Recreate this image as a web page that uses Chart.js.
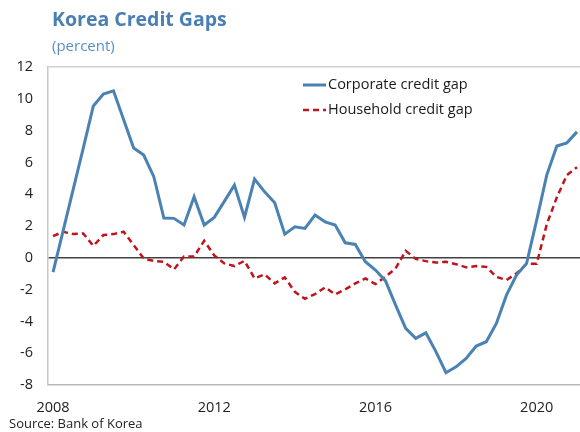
<!DOCTYPE html>
<html>
<head>
<meta charset="utf-8">
<script src="https://cdn.jsdelivr.net/npm/chart.js@4/dist/chart.umd.min.js"></script>
<style>
  html, body { margin: 0; padding: 0; background: #fff; }
  #wrap { position: relative; width: 580px; height: 432px; overflow: hidden; font-family: "Open Sans", "Noto Sans", sans-serif; }
  canvas { position: absolute; left: 0; top: 0; }
  .title { position: absolute; left: 52px; top: 5px; font-size: 19.5px; font-weight: bold; color: #4a7fb3; white-space: nowrap; }
  .sub { position: absolute; left: 52px; top: 35px; font-size: 15px; color: #5b8fc4; white-space: nowrap; }
  .src { position: absolute; left: 9px; top: 414px; font-size: 13px; color: #222; white-space: nowrap; }
</style>
</head>
<body>
<div id="wrap">
  <canvas id="c" width="580" height="432"></canvas>
  <div class="title">Korea Credit Gaps</div>
  <div class="sub">(percent)</div>
  <div class="src">Source: Bank of Korea</div>
</div>
<script>
// Quarterly categories 2008Q1 .. 2021Q1
const quarters = [
  "2008Q1","2008Q2","2008Q3","2008Q4","2009Q1","2009Q2","2009Q3","2009Q4",
  "2010Q1","2010Q2","2010Q3","2010Q4","2011Q1","2011Q2","2011Q3","2011Q4",
  "2012Q1","2012Q2","2012Q3","2012Q4","2013Q1","2013Q2","2013Q3","2013Q4",
  "2014Q1","2014Q2","2014Q3","2014Q4","2015Q1","2015Q2","2015Q3","2015Q4",
  "2016Q1","2016Q2","2016Q3","2016Q4","2017Q1","2017Q2","2017Q3","2017Q4",
  "2018Q1","2018Q2","2018Q3","2018Q4","2019Q1","2019Q2","2019Q3","2019Q4",
  "2020Q1","2020Q2","2020Q3","2020Q4","2021Q1"
];
const corporateGap = [
  -0.9, 1.7, 4.3, 6.9, 9.55, 10.3, 10.5, 8.7,
  6.9, 6.46, 5.1, 2.5, 2.48, 2.06, 3.84, 2.06,
  2.54, 3.55, 4.57, 2.54, 4.95, 4.15, 3.46, 1.49,
  1.95, 1.85, 2.69, 2.26, 2.06, 0.94, 0.84, -0.25,
  -0.77, -1.45, -2.98, -4.44, -5.07, -4.72, -5.9, -7.23,
  -6.86, -6.33, -5.55, -5.28, -4.13, -2.35, -1.09, -0.35,
  2.37, 5.2, 7.03, 7.23, 7.92
];
const householdGap = [
  1.36, 1.64, 1.49, 1.53, 0.75, 1.43, 1.49, 1.64,
  0.8, -0.05, -0.2, -0.25, -0.73, 0.08, 0.08, 1.07,
  0.15, -0.35, -0.52, -0.19, -1.3, -1.04, -1.61, -1.23,
  -2.14, -2.58, -2.28, -1.86, -2.3, -1.99, -1.61, -1.3,
  -1.65, -1.19, -0.67, 0.44, -0.07, -0.21, -0.3, -0.25,
  -0.4, -0.6, -0.52, -0.57, -1.2, -1.4, -0.98, -0.38,
  -0.38, 2.1, 3.8, 5.2, 5.7
];
const xTickQuarters = ["2008Q1","2012Q1","2016Q1","2020Q1"];
const xTickLabels = ["2008","2012","2016","2020"];
const seriesNames = ["Corporate credit gap","Household credit gap"];

const toPoints = arr => arr.map((v, i) => ({ x: i, y: v }));
const tickIdx = xTickQuarters.map(q => quarters.indexOf(q));

const FONT = '"Open Sans", "Noto Sans", sans-serif';

const legendPlugin = {
  id: 'insideLegend',
  afterDraw(chart) {
    const ctx = chart.ctx;
    const rows = [85, 110];
    chart.data.datasets.forEach((ds, k) => {
      const y = rows[k];
      ctx.save();
      ctx.strokeStyle = ds.borderColor;
      ctx.lineWidth = ds.borderWidth;
      ctx.setLineDash(ds.borderDash || []);
      ctx.beginPath();
      ctx.moveTo(303, y);
      ctx.lineTo(326, y);
      ctx.stroke();
      ctx.setLineDash([]);
      ctx.fillStyle = '#1a1a1a';
      ctx.font = '14.5px ' + FONT;
      ctx.textBaseline = 'middle';
      ctx.textAlign = 'left';
      ctx.fillText(ds.label, 328, y);
      ctx.restore();
    });
  }
};

new Chart(document.getElementById('c'), {
  type: 'line',
  data: {
    datasets: [
      {
        label: seriesNames[0],
        data: toPoints(corporateGap),
        borderColor: '#4a82b4',
        borderWidth: 3,
        pointRadius: 0,
        tension: 0,
        fill: false
      },
      {
        label: seriesNames[1],
        data: toPoints(householdGap),
        borderColor: '#c0141c',
        borderWidth: 2.5,
        borderDash: [6, 4],
        pointRadius: 0,
        tension: 0,
        fill: false
      }
    ]
  },
  options: {
    responsive: false,
    animation: false,
    layout: { padding: { top: 67, right: 0, bottom: 0, left: 0 } },
    plugins: {
      legend: { display: false },
      tooltip: { enabled: false },
      title: { display: false }
    },
    scales: {
      x: {
        type: 'linear',
        min: -0.5,
        max: 52.3,
        afterBuildTicks(scale) {
          scale.ticks = tickIdx.map(v => ({ value: v }));
        },
        afterFit(scale) { scale.height = 47; },
        ticks: {
          autoSkip: false,
          maxRotation: 0,
          padding: 14,
          color: '#222',
          font: { family: FONT, size: 14.5 },
          callback(value) {
            const k = tickIdx.indexOf(value);
            return k >= 0 ? xTickLabels[k] : '';
          }
        },
        grid: { display: false, drawTicks: false },
        border: { display: true, color: '#b8b8b8', width: 1.5 }
      },
      y: {
        min: -8,
        max: 12,
        afterFit(scale) { scale.width = 48; },
        ticks: {
          stepSize: 2,
          padding: 15,
          color: '#222',
          font: { family: FONT, size: 14.5 }
        },
        grid: {
          drawTicks: false,
          color(ctx) {
            if (ctx.tick && ctx.tick.value === 0) return '#404040';
            if (ctx.tick && ctx.tick.value === 12) return '#d0d0d0';
            return 'rgba(0,0,0,0)';
          },
          lineWidth(ctx) {
            if (ctx.tick && ctx.tick.value === 0) return 1.5;
            if (ctx.tick && ctx.tick.value === 12) return 1.5;
            return 0;
          }
        },
        border: { display: true, color: '#c8c8c8', width: 1.5 }
      }
    }
  },
  plugins: [legendPlugin]
});
</script>
</body>
</html>
